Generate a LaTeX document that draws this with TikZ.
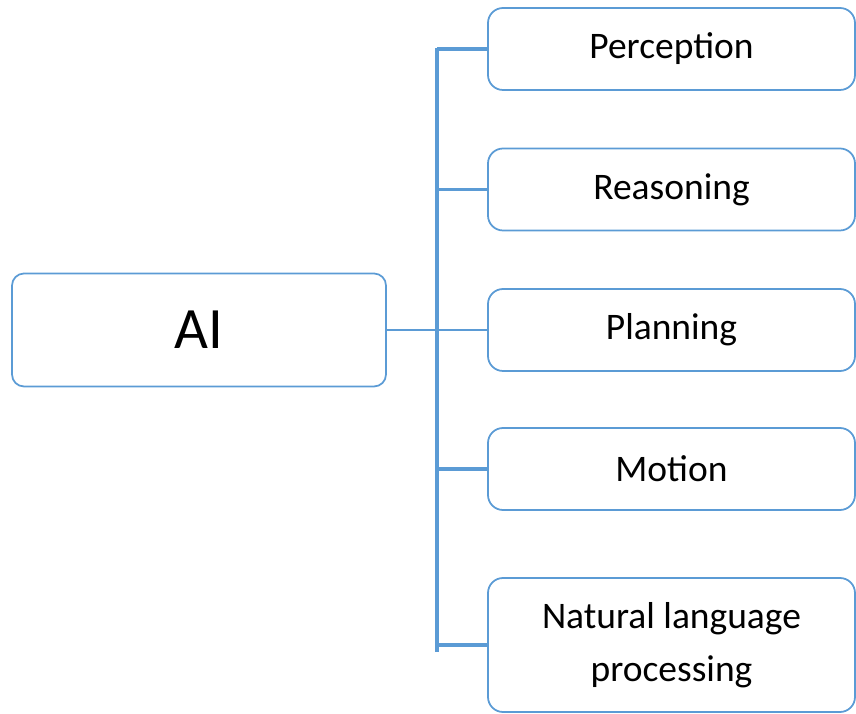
\documentclass[tikz,border=0pt]{standalone}
\usepackage{fontspec}
\setmainfont{Carlito}
\definecolor{boxblue}{HTML}{5B9BD5}
\begin{document}
\begin{tikzpicture}[
root/.style={draw=boxblue,line width=1.5pt,rounded corners=0.36cm,minimum width=11.22cm,minimum height=3.39cm,font=\fontsize{50}{56}\selectfont},
leaf/.style={draw=boxblue,line width=1.5pt,rounded corners=0.45cm,minimum width=11.01cm,minimum height=2.46cm,align=center,font=\fontsize{32}{45}\selectfont},
branch/.style={draw=boxblue,line width=3pt},
link/.style={draw=boxblue,line width=1.2pt},
]
\useasboundingbox (0,0) rectangle (25.68,21.42);
\node[leaf] (perc) at (20.145,19.95) {Perception};
\node[leaf] (reas) at (20.145,15.735) {Reasoning};
\node[leaf] (plan) at (20.145,11.52) {Planning};
\node[leaf] (mot) at (20.145,7.35) {Motion};
\node[leaf,minimum height=4.02cm] (nlp) at (20.145,2.07) {Natural language\\processing};
\node[root] (ai) at (5.97,11.52) {AI};
\coordinate (top) at (13.11,19.98);
\coordinate (bot) at (13.11,1.86);
\draw[branch] (top) -- (bot);
\foreach \n in {perc,reas,mot,nlp}
  \draw[branch] (top |- \n.west) -- (\n.west);
\draw[link] (ai.east) -- (plan.west);
\end{tikzpicture}
\end{document}
